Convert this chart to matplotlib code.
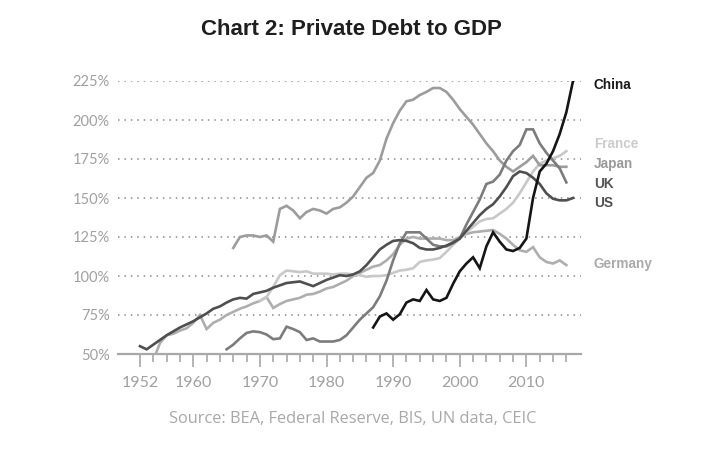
import matplotlib
matplotlib.use("Agg")
import matplotlib.pyplot as plt
from matplotlib.ticker import FixedLocator, FuncFormatter

# values (% of GDP)
us_years = list(range(1952, 2018))
us = [55, 53, 56, 59, 62, 64.5, 67, 69, 71, 73.5, 76, 79, 80.5, 83, 85, 86, 85.5, 88.5, 89.5, 90.5,
      92.5, 94, 95.5, 96, 96.5, 95, 93.5, 95.5, 97.5, 99, 100.5, 100, 101, 103, 107, 112, 117, 120,
      122.5, 123, 122.5, 121, 118, 117, 117, 118, 119.5, 121.5, 124, 129, 134, 139, 143, 146, 151,
      157, 164, 167, 166, 163, 159, 153, 149.5, 148.5, 148.5, 150]

germany_years = list(range(1954, 2017))
germany = [46, 57, 62, 63, 65, 66.5, 70, 75, 66, 70, 72, 75, 77, 79, 80.5, 82.5, 84, 86.5, 79.5,
           82, 84, 85, 86, 88, 88.5, 90, 92, 93, 95, 97, 100, 102, 104, 106, 107, 110, 114, 120,
           124, 125, 124, 124, 124, 124, 123, 123, 125, 127, 128, 128.5, 129, 129.5, 127, 124,
           120, 116.5, 115.5, 118.5, 112, 109, 108, 110, 107]

france_years = list(range(1970, 2017))
france = [84, 86.5, 93, 100.5, 103.5, 103, 102.5, 103, 101.5, 101.5, 101.5, 101, 101.5, 101.5, 101,
          100.5, 99.5, 100, 100, 100.5, 102, 103.5, 104, 105, 109, 110, 110.5, 111.5, 115.5, 120,
          124, 128, 131.5, 135, 136.5, 137, 140, 143, 147, 153, 160, 167, 172, 174, 175.5, 177, 180]

japan_years = list(range(1966, 2017))
japan = [118, 125, 126, 126, 125, 126, 122, 143, 145, 142, 137, 141, 143, 142, 140, 143, 144, 147,
         151, 157, 163, 166, 174, 188, 198, 206, 212, 213, 216, 218, 220.5, 220.5, 218, 213, 207,
         202, 197, 191, 185, 180, 174, 170, 167, 170, 173, 177, 171, 171, 171, 170, 170]

uk_years = list(range(1965, 2017))
uk = [53, 56, 60, 63.5, 64.5, 64, 62.5, 59.5, 60, 67.5, 66, 64, 59, 60, 58, 58, 58, 59, 62, 67, 72,
      76, 80, 87, 97, 110, 121, 128, 128, 128, 124, 120, 119, 119, 121, 124, 133, 141, 149, 159,
      160.5, 165, 174, 180, 184, 194, 194, 185, 179, 174, 169, 160]

china_years = list(range(1987, 2018))
china = [67, 74, 76, 72, 75.5, 83, 85, 84, 91, 85, 84, 86, 95, 103, 108, 112, 105, 119, 128, 122,
         117, 116, 118, 124, 150, 167, 172, 180, 191, 205, 225]

names = ["China", "France", "Japan", "UK", "US", "Germany"]
label_values = [222.7, 184.7, 171.8, 159, 146.6, 107.4]
line_colors = {"China": "#151515", "France": "#c8c8c8", "Japan": "#9c9c9c",
               "UK": "#7c7c7c", "US": "#4f4f4f", "Germany": "#aeaeae"}
label_colors = {"China": "#1a1a1a", "France": "#cccccc", "Japan": "#9a9a9a",
                "UK": "#555555", "US": "#505050", "Germany": "#aaaaaa"}

series = {
    "Germany": (germany_years, germany),
    "France": (france_years, france),
    "Japan": (japan_years, japan),
    "UK": (uk_years, uk),
    "US": (us_years, us),
    "China": (china_years, china),
}

fig = plt.figure(figsize=(7.04, 4.49), dpi=100)
ax = fig.add_axes([118 / 704, 1 - 354 / 449, (581 - 118) / 704, (354 - 81) / 449])

# dotted gridlines
for y in range(75, 226, 25):
    ax.axhline(y, color="#8a8a8a", lw=1.1, linestyle=(0, (1, 3.2)), zorder=1)

for name, (xs, ys) in series.items():
    ax.plot(xs, ys, color=line_colors[name], lw=1.9, zorder=3, solid_joinstyle="miter")

ax.set_xlim(1948.7, 2018.2)
ax.set_ylim(50, 225)

for s in ["top", "right", "left"]:
    ax.spines[s].set_visible(False)
ax.spines["bottom"].set_color("#a8a8a8")
ax.spines["bottom"].set_linewidth(1.6)

label_years = [1952, 1960, 1970, 1980, 1990, 2000, 2010]
ax.xaxis.set_major_locator(FixedLocator(label_years))
ax.xaxis.set_minor_locator(FixedLocator(range(1952, 2017, 2)))
ax.tick_params(axis="x", which="major", length=9, width=1.2, color="#a8a8a8", pad=7,
               labelsize=11.5, labelcolor="#a0a0a0")
ax.tick_params(axis="x", which="minor", length=6, width=1.2, color="#a8a8a8")
for lab in ax.get_xticklabels():
    lab.set_family("Lato")

ax.set_yticks(range(50, 226, 25))
ax.yaxis.set_major_formatter(FuncFormatter(lambda v, p: f"{int(v)}%"))
ax.tick_params(axis="y", length=0, pad=6, labelsize=10.5, labelcolor="#a0a0a0")
for lab in ax.get_yticklabels():
    lab.set_family("Lato")

# series names at the right end
for name, v in zip(names, label_values):
    ax.text(2020.1, v, name, color=label_colors[name], fontsize=9.8, fontweight="bold",
            family="Liberation Sans", va="center", ha="left", clip_on=False)

fig.text(0.499, 0.935, "Chart 2: Private Debt to GDP", ha="center", va="center",
         fontsize=16, fontweight="bold", family="Liberation Sans", color="#1e1e1e")
fig.text(0.501, 0.066, "Source: BEA, Federal Reserve, BIS, UN data, CEIC", ha="center",
         va="center", fontsize=11.8, family="Open Sans", color="#a8a8a8")

fig.savefig("out.png", dpi=100)
